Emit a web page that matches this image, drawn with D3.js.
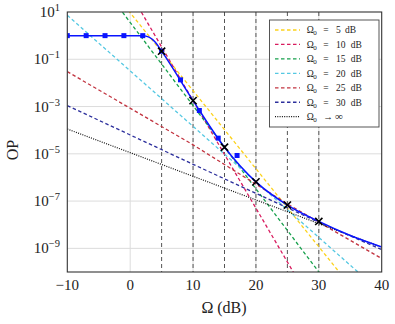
<!DOCTYPE html>
<html>
<head>
<meta charset="utf-8">
<script src="https://cdn.jsdelivr.net/npm/d3@7"></script>
<style>
  body { margin: 0; background: #fff; }
  svg { display: block; font-family: "Liberation Serif", "DejaVu Serif", serif; }
</style>
</head>
<body>
<svg></svg>
<script>
// Data
const X_TICKS = [-10, 0, 10, 20, 30, 40];
const Y_TICKS = [1e1, 1e-1, 1e-3, 1e-5, 1e-7, 1e-9];
const Y_TICK_EXP = ["1", "\u22121", "\u22123", "\u22125", "\u22127", "\u22129"];

const OMEGA0 = [5, 10, 15, 20, 25, 30];
const OMEGA0_OP = [2.2e-1, 1.78e-3, 1.9e-5, 6.5e-7, 6.8e-8, 1.38e-8];

// dashed curves, one per Omega0
const CURVE_5_X = [-0.3, 5, 15, 25, 33.5];
const CURVE_5_Y = [11.7, 2.09e-1, 1.05e-4, 5.2e-8, 8.2e-11];
const CURVE_10_X = [1.3, 10, 20, 26.3];
const CURVE_10_Y = [16.2, 1.78e-3, 5.0e-8, 6.8e-11];
const CURVE_15_X = [-1.8, 5, 15, 30.4];
const CURVE_15_Y = [15.6, 6.3e-2, 1.9e-5, 7.2e-11];
const CURVE_20_X = [-10, 5, 20, 36.8];
const CURVE_20_Y = [7.24, 2.16e-3, 6.5e-7, 7.3e-11];
const CURVE_25_X = [-10, 10, 25, 40];
const CURVE_25_Y = [3.0e-2, 2.4e-5, 7.6e-8, 3.7e-10];
const CURVE_30_X = [-10, 10, 30, 40];
const CURVE_30_Y = [1.1e-3, 3.6e-6, 1.26e-8, 8.9e-10];
const CURVE_INF_X = [-10, 0, 10, 20, 30, 40];
const CURVE_INF_Y = [1.12e-4, 1.12e-5, 1.12e-6, 1.12e-7, 1.12e-8, 1.12e-9];

// solid blue curve and simulated points
const OPT_X = [-10, -7, -4, -1, 2, 3, 4, 5, 10, 15, 20, 25, 30, 35, 40];
const OPT_Y = [1, 1, 1, 1, 1, 0.87, 0.52, 0.22, 1.78e-3, 1.9e-5, 6.5e-7, 6.8e-8, 1.38e-8, 3.5e-9, 1.15e-9];
const SIM_X = [-10, -7, -4, -1, 2, 5, 8, 11, 14, 17];
const SIM_Y = [1, 1, 1, 1, 1, 0.22, 1.35e-2, 6.8e-4, 4.6e-5, 8.5e-6];

const LEGEND_VALUES = ["5", "10", "15", "20", "25", "30"];

/*
 * Layout
 */
const W = 395, H = 324;
const LEFT = 67.3, RIGHT = 381.7, TOP = 12, BOTTOM = 272;

const svg = d3.select("svg").attr("width", W).attr("height", H);

const x = d3.scaleLinear().domain([-10, 40]).range([LEFT, RIGHT]);
const y = d3.scaleLog().domain([1e-10, 1e1]).range([BOTTOM, TOP]);

svg.append("defs").append("clipPath").attr("id", "plot-clip")
  .append("rect")
  .attr("x", LEFT).attr("y", TOP)
  .attr("width", RIGHT - LEFT).attr("height", BOTTOM - TOP);

// grid
svg.append("g").selectAll("line")
  .data(X_TICKS.slice(1, -1))
  .join("line")
  .attr("x1", d => x(d)).attr("x2", d => x(d))
  .attr("y1", TOP).attr("y2", BOTTOM)
  .attr("stroke", "#dcdcdc").attr("stroke-width", 1);

svg.append("g").selectAll("line")
  .data(Y_TICKS.slice(1))
  .join("line")
  .attr("x1", LEFT).attr("x2", RIGHT)
  .attr("y1", d => y(d)).attr("y2", d => y(d))
  .attr("stroke", "#dcdcdc").attr("stroke-width", 1);

// vertical dashed lines at each Omega0
svg.append("g").selectAll("line")
  .data(OMEGA0)
  .join("line")
  .attr("x1", d => x(d)).attr("x2", d => x(d))
  .attr("y1", TOP).attr("y2", BOTTOM)
  .attr("stroke", "#555")
  .attr("stroke-width", 1)
  .attr("stroke-dasharray", "4,3");

const line = d3.line()
  .x(d => x(d[0]))
  .y(d => y(d[1]));

const series = [
  { xs: CURVE_5_X, ys: CURVE_5_Y, color: "#fcd21c" },
  { xs: CURVE_10_X, ys: CURVE_10_Y, color: "#d81b5e" },
  { xs: CURVE_15_X, ys: CURVE_15_Y, color: "#17a04c" },
  { xs: CURVE_20_X, ys: CURVE_20_Y, color: "#55c8e2" },
  { xs: CURVE_25_X, ys: CURVE_25_Y, color: "#c23440" },
  { xs: CURVE_30_X, ys: CURVE_30_Y, color: "#2c2f9c" }
];

const plot = svg.append("g").attr("clip-path", "url(#plot-clip)");

series.forEach(s => {
  plot.append("path")
    .datum(d3.zip(s.xs, s.ys))
    .attr("d", line)
    .attr("fill", "none")
    .attr("stroke", s.color)
    .attr("stroke-width", 1.3)
    .attr("stroke-dasharray", "3.5,2.5");
});

plot.append("path")
  .datum(d3.zip(CURVE_INF_X, CURVE_INF_Y))
  .attr("d", line)
  .attr("fill", "none")
  .attr("stroke", "#111")
  .attr("stroke-width", 1.2)
  .attr("stroke-dasharray", "1,1.3");

// optimal curve
plot.append("path")
  .datum(d3.zip(OPT_X, OPT_Y))
  .attr("d", line.curve(d3.curveMonotoneX))
  .attr("fill", "none")
  .attr("stroke", "#0a14ff")
  .attr("stroke-width", 1.5);

plot.append("g").selectAll("rect")
  .data(d3.zip(SIM_X, SIM_Y))
  .join("rect")
  .attr("x", d => x(d[0]) - 2.5)
  .attr("y", d => y(d[1]) - 2.5)
  .attr("width", 5).attr("height", 5)
  .attr("fill", "#0a14ff");

// X markers
const xm = svg.append("g").selectAll("path")
  .data(d3.zip(OMEGA0, OMEGA0_OP))
  .join("path")
  .attr("d", d => {
    const cx = x(d[0]), cy = y(d[1]), r = 3.6;
    return `M${cx - r},${cy - r}L${cx + r},${cy + r}M${cx - r},${cy + r}L${cx + r},${cy - r}`;
  })
  .attr("stroke", "#000")
  .attr("stroke-width", 1.6);

// frame
svg.append("rect")
  .attr("x", LEFT).attr("y", TOP)
  .attr("width", RIGHT - LEFT).attr("height", BOTTOM - TOP)
  .attr("fill", "none")
  .attr("stroke", "#333")
  .attr("stroke-width", 1.1);

// tick labels
svg.append("g").selectAll("text")
  .data(X_TICKS)
  .join("text")
  .attr("x", d => x(d))
  .attr("y", 290)
  .attr("text-anchor", "middle")
  .attr("font-size", 15)
  .attr("fill", "#222")
  .text(d => d < 0 ? "\u2212" + Math.abs(d) : d);

Y_TICKS.forEach((t, i) => {
  const txt = svg.append("text")
    .attr("x", 60)
    .attr("y", y(t) + 5)
    .attr("text-anchor", "end")
    .attr("font-size", 15)
    .attr("fill", "#222");
  txt.append("tspan").text("10");
  txt.append("tspan")
    .attr("font-size", 10.5)
    .attr("dy", -6)
    .text(Y_TICK_EXP[i]);
});

// axis labels
svg.append("text")
  .attr("x", 224)
  .attr("y", 313)
  .attr("text-anchor", "middle")
  .attr("font-size", 16)
  .attr("fill", "#222")
  .text("\u03A9 (dB)");

svg.append("text")
  .attr("transform", "translate(18,150) rotate(-90)")
  .attr("text-anchor", "middle")
  .attr("font-size", 16)
  .attr("fill", "#222")
  .text("OP");

// legend
const legend = svg.append("g");
legend.append("rect")
  .attr("x", 269.5).attr("y", 20)
  .attr("width", 109.5).attr("height", 107)
  .attr("fill", "#fff")
  .attr("stroke", "#444")
  .attr("stroke-width", 0.9);

function legendLabel(ry, sym, value) {
  const g = legend.append("g")
    .attr("font-size", 9.5)
    .attr("fill", "#222");
  g.append("text").attr("x", 306.7).attr("y", ry + 3.3).text("\u03A9");
  g.append("text").attr("x", 313.3).attr("y", ry + 5.3).attr("font-size", 7).text("0");
  g.append("text").attr("x", 323.3).attr("y", ry + 3.3).text(sym);
  if (value !== null) {
    g.append("text").attr("x", 336).attr("y", ry + 3.3).text(value);
    g.append("text").attr("x", value.length > 1 ? 350.7 : 345).attr("y", ry + 3.3).text("dB");
  }
}

series.forEach((s, i) => {
  const ry = 30 + i * 14.45;
  legend.append("line")
    .attr("x1", 275).attr("x2", 300)
    .attr("y1", ry).attr("y2", ry)
    .attr("stroke", s.color)
    .attr("stroke-width", 1.3)
    .attr("stroke-dasharray", "3.5,2.5");
  legendLabel(ry, "=", LEGEND_VALUES[i]);
});

const infY = 30 + 6 * 14.45;
legend.append("line")
  .attr("x1", 275).attr("x2", 300)
  .attr("y1", infY).attr("y2", infY)
  .attr("stroke", "#111")
  .attr("stroke-width", 1.2)
  .attr("stroke-dasharray", "1,1.3");
legendLabel(infY, "\u2192", null);
legend.append("text")
  .attr("x", 335).attr("y", infY + 3.3)
  .attr("font-size", 11)
  .attr("fill", "#222")
  .text("\u221E");
</script>
</body>
</html>
